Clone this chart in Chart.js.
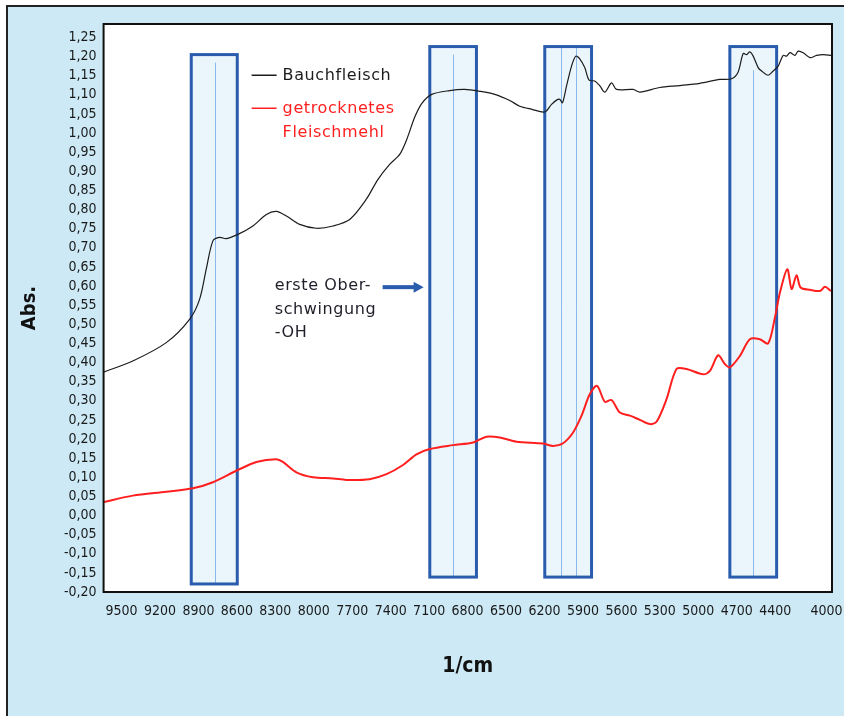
<!DOCTYPE html>
<html>
<head>
<meta charset="utf-8">
<script src="https://cdn.jsdelivr.net/npm/chart.js@4.4.1/dist/chart.umd.min.js"></script>
<style>
  html, body { margin: 0; padding: 0; background: #fff; overflow: hidden; }
  #frame { position: absolute; left: 6px; top: 5px; width: 860px; height: 730px;
           background: #cce9f5; border-left: 2px solid #222; border-top: 2px solid #222; }
  #wrap { position: absolute; left: 0; top: 0; width: 844px; height: 716px; }
</style>
</head>
<body>
<div id="frame"></div>
<div id="wrap"><canvas id="specChart" width="844" height="716"></canvas></div>
<script>
const bauchWn = [9640, 9412, 9151, 8969, 8891, 8839, 8787, 8735, 8682, 8592, 8475, 8370, 8292, 8214, 8110,
  7980, 7850, 7720, 7590, 7499, 7408, 7330, 7275, 7213, 7158, 7080, 6939, 6822, 6705, 6588, 6471, 6393,
  6299, 6198, 6145, 6106, 6081, 6060, 6028, 5989, 5956, 5925, 5886, 5852, 5808, 5768, 5729, 5677, 5638,
  5509, 5456, 5300, 5144, 4988, 4832, 4740, 4691, 4650, 4623, 4598, 4572, 4533, 4506, 4455, 4416, 4377,
  4338, 4311, 4285, 4246, 4221, 4182, 4129, 4077, 4025, 3965];
const bauchAbs = [0.375, 0.404, 0.452, 0.513, 0.565, 0.644, 0.718, 0.727, 0.724, 0.735, 0.757, 0.787, 0.795,
  0.783, 0.761, 0.751, 0.757, 0.774, 0.827, 0.879, 0.918, 0.944, 0.983, 1.041, 1.077, 1.101, 1.111, 1.114,
  1.109, 1.101, 1.085, 1.070, 1.062, 1.055, 1.075, 1.086, 1.088, 1.079, 1.123, 1.175, 1.201, 1.194, 1.171,
  1.138, 1.136, 1.123, 1.107, 1.131, 1.114, 1.114, 1.107, 1.119, 1.124, 1.130, 1.140, 1.142, 1.158, 1.208,
  1.205, 1.212, 1.201, 1.171, 1.162, 1.151, 1.162, 1.175, 1.203, 1.201, 1.210, 1.203, 1.214, 1.210, 1.197,
  1.203, 1.205, 1.203];

const mehlWn = [9640, 9412, 9151, 8943, 8787, 8604, 8448, 8292, 8241, 8136, 8006, 7850, 7746, 7564, 7433,
  7304, 7199, 7095, 6914, 6757, 6653, 6549, 6419, 6211, 6133, 6055, 5977, 5911, 5847, 5790, 5729, 5677,
  5612, 5534, 5456, 5378, 5326, 5248, 5170, 5092, 4962, 4910, 4845, 4793, 4754, 4676, 4598, 4520, 4455,
  4402, 4363, 4306, 4272, 4233, 4202, 4129, 4051, 4012, 3965];
const mehlAbs = [0.035, 0.052, 0.062, 0.071, 0.087, 0.117, 0.140, 0.147, 0.140, 0.113, 0.100, 0.097, 0.093,
  0.095, 0.108, 0.132, 0.160, 0.174, 0.184, 0.191, 0.206, 0.204, 0.193, 0.188, 0.182, 0.189, 0.217, 0.261,
  0.317, 0.339, 0.297, 0.302, 0.269, 0.261, 0.250, 0.239, 0.245, 0.304, 0.383, 0.383, 0.369, 0.378, 0.419,
  0.396, 0.387, 0.417, 0.461, 0.461, 0.450, 0.518, 0.583, 0.644, 0.592, 0.628, 0.596, 0.590, 0.587, 0.598,
  0.587];

const xTickValues = [9500, 9200, 8900, 8600, 8300, 8000, 7700, 7400, 7100, 6800, 6500, 6200, 5900, 5600,
  5300, 5000, 4700, 4400, 4000];
const yTickValues = [-0.20, -0.15, -0.10, -0.05, 0, 0.05, 0.10, 0.15, 0.20, 0.25, 0.30, 0.35, 0.40, 0.45,
  0.50, 0.55, 0.60, 0.65, 0.70, 0.75, 0.80, 0.85, 0.90, 0.95, 1.00, 1.05, 1.10, 1.15, 1.20, 1.25];

// markierte Banden (Rahmen + Mittellinien)
const bands = [
  { from: 8956, to: 8597, top: 1.205, bottom: -0.179, lines: [8774], lineTop: 1.184 },
  { from: 7095, to: 6731, top: 1.226, bottom: -0.161, lines: [6914], lineTop: 1.205 },
  { from: 6198, to: 5833, top: 1.226, bottom: -0.161, lines: [6073, 5952], lineTop: 1.226 },
  { from: 4754, to: 4389, top: 1.226, bottom: -0.161, lines: [4572], lineTop: 1.164 }
];
const noteLines = ['erste Ober-', 'schwingung', '-OH'];
const noteAt = { x: 8305, y: 0.589 };
const arrowFrom = { x: 7463, y: 0.597 };
const arrowTo = { x: 7143, y: 0.597 };
const legendAt = { x: 8485, y: 1.151 };

const narrow = "'Liberation Sans Narrow', 'DejaVu Sans Condensed', 'Arial Narrow', sans-serif";
const plain = "'DejaVu Sans', sans-serif";
const bandBlue = '#2a5cad';

const bauch = bauchWn.map((w, i) => ({ x: w, y: bauchAbs[i] }));
const mehl = mehlWn.map((w, i) => ({ x: w, y: mehlAbs[i] }));

const overlays = {
  id: 'overlays',
  beforeDraw(chart) {
    const { ctx, chartArea: a } = chart;
    ctx.save();
    ctx.fillStyle = '#fff';
    ctx.fillRect(a.left, a.top, a.right - a.left, a.bottom - a.top);
    ctx.restore();
  },
  beforeDatasetsDraw(chart) {
    const { ctx, scales: { x, y } } = chart;
    ctx.save();
    bands.forEach(b => {
      const l = x.getPixelForValue(b.from), r = x.getPixelForValue(b.to);
      const t = y.getPixelForValue(b.top), btm = y.getPixelForValue(b.bottom);
      ctx.fillStyle = '#eaf6fc';
      ctx.fillRect(l, t, r - l, btm - t);
      ctx.strokeStyle = '#8ab8e8';
      ctx.lineWidth = 1;
      b.lines.forEach(w => {
        const px = Math.round(x.getPixelForValue(w)) + 0.5;
        ctx.beginPath();
        ctx.moveTo(px, y.getPixelForValue(b.lineTop));
        ctx.lineTo(px, btm);
        ctx.stroke();
      });
      ctx.strokeStyle = bandBlue;
      ctx.lineWidth = 3;
      ctx.strokeRect(l, t, r - l, btm - t);
    });
    ctx.restore();
  },
  afterDatasetsDraw(chart) {
    const { ctx, chartArea: a, scales: { x, y } } = chart;
    ctx.save();
    // Rahmen der Zeichenfläche
    ctx.strokeStyle = '#111';
    ctx.lineWidth = 2;
    ctx.strokeRect(a.left, a.top, a.right - a.left, a.bottom - a.top);

    // Legende
    ctx.font = '16px ' + plain;
    ctx.letterSpacing = '0.6px';
    ctx.textBaseline = 'alphabetic';
    let lx = x.getPixelForValue(legendAt.x), ly = y.getPixelForValue(legendAt.y);
    chart.data.datasets.forEach((ds, i) => {
      const rowY = ly + i * 33;
      ctx.strokeStyle = ds.borderColor;
      ctx.lineWidth = 1.5;
      ctx.beginPath();
      ctx.moveTo(lx, rowY);
      ctx.lineTo(lx + 25, rowY);
      ctx.stroke();
      ctx.fillStyle = ds.borderColor;
      ds.label.split(' ').forEach((part, j) => ctx.fillText(part, lx + 31, rowY + 5 + j * 23.5));
    });

    // Hinweis + Pfeil
    ctx.fillStyle = '#1f1f2a';
    const nx = x.getPixelForValue(noteAt.x), ny = y.getPixelForValue(noteAt.y);
    noteLines.forEach((t, i) => ctx.fillText(t, nx, ny + i * 23.3));

    const ax0 = x.getPixelForValue(arrowFrom.x), ax1 = x.getPixelForValue(arrowTo.x);
    const ay = y.getPixelForValue(arrowFrom.y);
    ctx.fillStyle = bandBlue;
    ctx.fillRect(ax0, ay - 2, ax1 - ax0 - 8, 4);
    ctx.beginPath();
    ctx.moveTo(ax1, ay);
    ctx.lineTo(ax1 - 10, ay - 5.5);
    ctx.lineTo(ax1 - 10, ay + 5.5);
    ctx.closePath();
    ctx.fill();
    ctx.restore();
  }
};

const ctx = document.getElementById('specChart').getContext('2d');
new Chart(ctx, {
  type: 'line',
  data: {
    datasets: [
      { label: 'Bauchfleisch', data: bauch, borderColor: '#1c1c1c', borderWidth: 1.2,
        pointRadius: 0, tension: 0.3 },
      { label: 'getrocknetes Fleischmehl', data: mehl, borderColor: '#ff1f1f', borderWidth: 2,
        pointRadius: 0, tension: 0.3 }
    ]
  },
  options: {
    responsive: false,
    animation: false,
    layout: { padding: { left: 8, right: 12, top: 24, bottom: 17 } },
    plugins: { legend: { display: false }, tooltip: { enabled: false } },
    scales: {
      x: {
        type: 'linear', reverse: true, min: 3957, max: 9640,
        afterBuildTicks: s => { s.ticks = xTickValues.map(v => ({ value: v })); },
        afterFit: s => { s.paddingLeft = 0; s.paddingRight = 0; },
        grid: { display: false, drawTicks: false },
        border: { display: false },
        ticks: { autoSkip: false, maxRotation: 0, padding: 11, color: '#1a1a1a',
                 font: { family: narrow, size: 14 }, callback: v => String(v) },
        title: { display: true, text: '1/cm', color: '#111',
                 font: { family: narrow, size: 21, weight: 'bold' }, padding: { top: 23, bottom: 20 } }
      },
      y: {
        type: 'linear', min: -0.2, max: 1.285,
        afterBuildTicks: s => { s.ticks = yTickValues.map(v => ({ value: v })); },
        grid: { display: false, drawTicks: false },
        border: { display: false },
        ticks: { autoSkip: false, padding: 7, color: '#1a1a1a', font: { family: narrow, size: 14 },
                 callback: v => v.toFixed(2).replace('.', ',') },
        title: { display: true, text: 'Abs.', color: '#111',
                 font: { family: narrow, size: 20, weight: 'bold' }, padding: { top: 10, bottom: 15 } }
      }
    }
  },
  plugins: [overlays]
});
</script>
</body>
</html>
